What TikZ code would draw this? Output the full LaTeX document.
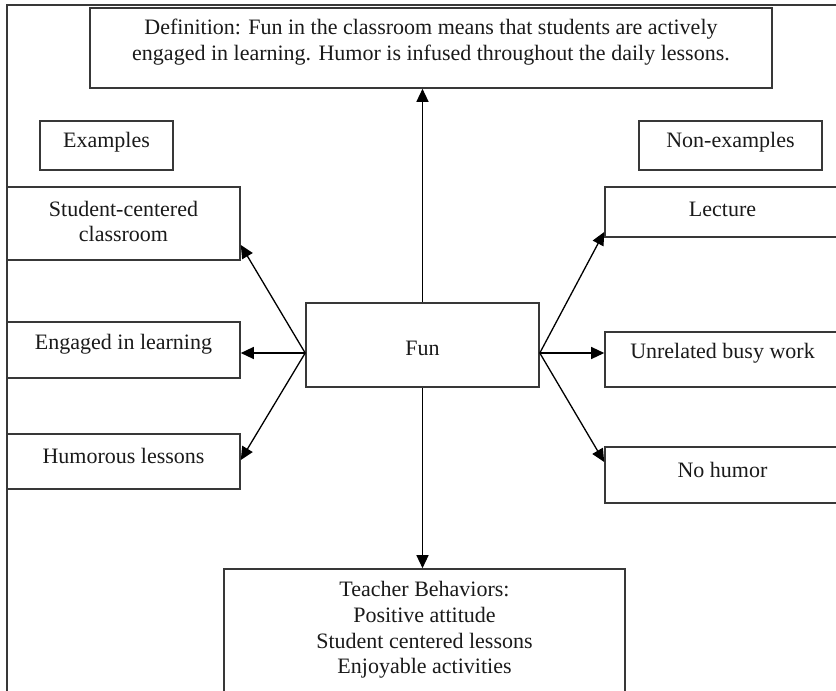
\documentclass[tikz,border=0pt]{standalone}
\usepackage{fontspec}
\setmainfont{Liberation Serif}
\usetikzlibrary{arrows.meta}
\definecolor{edge}{HTML}{383838}
\definecolor{ink}{HTML}{1A1A1A}
\tikzset{
  box/.style={draw=edge, line width=1.6pt, rectangle, inner sep=0pt, fill=white},
  txt/.style={align=center, text=ink, font=\fontsize{22}{25.7}\selectfont, inner sep=0pt},
  link/.style={draw=black, line width=1.3pt, -{Triangle[length=13pt,width=12pt]}},
}
\begin{document}
\begin{tikzpicture}[x=1pt, y=-1pt]
  \useasboundingbox (0,0) rectangle (836,691);
  \clip (0,0) rectangle (836,691);
  \fill[white] (0,0) rectangle (836,691);

  % page frame
  \draw[edge, line width=1.8pt] (840,5) -- (7,5) -- (7,695);

  % definition
  \node[box, minimum width=682pt, minimum height=80pt,
        label={[txt, yshift=6pt]center:Definition: Fun in the classroom means that students are actively\\engaged in learning. Humor is infused throughout the daily lessons.}]
        (def) at (431,48) {};

  % headings
  \node[box, minimum width=133pt, minimum height=49pt,
        label={[txt, yshift=3pt]center:Examples}] (ex) at (106.5,145.5) {};
  \node[box, minimum width=183pt, minimum height=49pt,
        label={[txt, yshift=3pt]center:Non-examples}] (nonex) at (730.5,145.5) {};

  % examples
  \node[box, minimum width=233pt, minimum height=73pt,
        label={[txt, yshift=2pt]center:Student-centered\\classroom}] (s1) at (123.5,223.5) {};
  \node[box, minimum width=233pt, minimum height=56pt,
        label={[txt, yshift=6pt]center:Engaged in learning}] (s2) at (123.5,350) {};
  \node[box, minimum width=233pt, minimum height=55pt,
        label={[txt, yshift=6pt]center:Humorous lessons}] (s3) at (123.5,461.5) {};

  % centre
  \node[box, minimum width=233pt, minimum height=84pt,
        label={[txt, yshift=-3pt]center:Fun}] (fun) at (422.5,345) {};

  % non-examples
  \node[box, minimum width=235pt, minimum height=50pt,
        label={[txt, yshift=3pt]center:Lecture}] (n1) at (722.5,212) {};
  \node[box, minimum width=235pt, minimum height=55pt,
        label={[txt, yshift=6pt]center:Unrelated busy work}] (n2) at (722.5,359.5) {};
  \node[box, minimum width=235pt, minimum height=56pt,
        label={[txt, yshift=5pt]center:No humor}] (n3) at (722.5,475) {};

  % teacher behaviours
  \node[box, minimum width=401pt, minimum height=144pt,
        label={[txt, yshift=11pt]center:Teacher Behaviors:\\Positive attitude\\Student centered lessons\\Enjoyable activities}]
        (teach) at (424.5,641) {};

  % connectors
  \coordinate (fl) at ([yshift=-8pt]fun.west);
  \coordinate (fr) at ([yshift=-8pt]fun.east);
  \draw[link] (fun.north) -- (fun.north |- def.south);
  \draw[link] (fun.south) -- (fun.south |- teach.north);
  \draw[link] (fl) -- ([yshift=-21.5pt]s1.east);
  \draw[link] (fl) -- (s2.east |- fl);
  \draw[link] (fl) -- ([yshift=1.5pt]s3.east);
  \draw[link] (fr) -- ([yshift=-20pt]n1.west);
  \draw[link] (fr) -- (n2.west |- fr);
  \draw[link] (fr) -- ([yshift=13pt]n3.west);
\end{tikzpicture}
\end{document}
